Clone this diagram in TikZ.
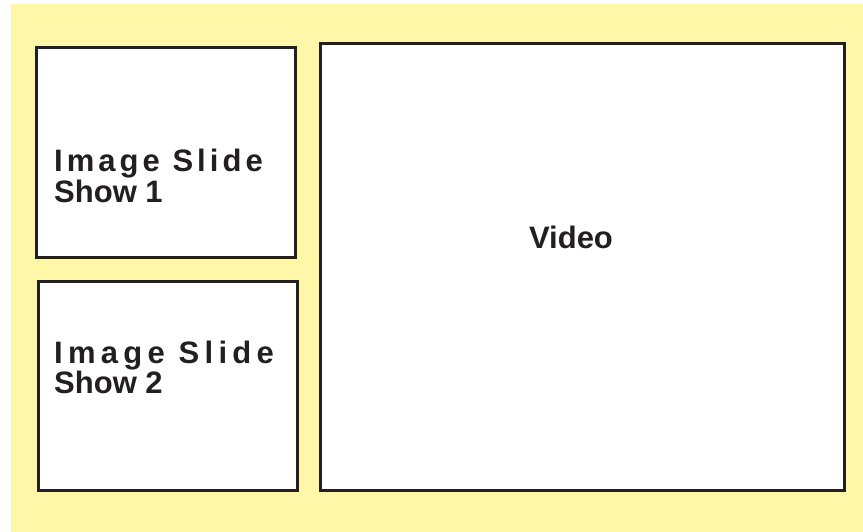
\documentclass[tikz,border=0pt]{standalone}
\usepackage{fontspec}
\setmainfont{Liberation Sans}
\newfontfamily\spacedfont[LetterSpace=13]{Liberation Sans}
\newfontfamily\widefont[LetterSpace=17]{Liberation Sans}
\begin{document}
\begin{tikzpicture}[x=1pt,y=-1pt]

\definecolor{BLACK}{RGB}{35,31,32}
\definecolor{WHITE}{RGB}{255,255,255}
\definecolor{PAPER}{RGB}{255,247,168}
\useasboundingbox (0,0) rectangle (863,532);
\fill[WHITE] (0,0) rectangle (863,532);
\fill[PAPER] (11,4) rectangle (863,532);
\draw[BLACK, solid, line join=miter, line width=3, fill=WHITE]
	(36,48) rectangle (295,257);
\draw[BLACK, solid, line join=miter, line width=3, fill=WHITE]
	(38,281) rectangle (297,490);
\draw[BLACK, solid, line join=miter, line width=3, fill=WHITE]
	(320,44) rectangle (844,490);
\draw[BLACK]
	(54,172) node[anchor=base west, inner sep=0, font=\fontsize{31}{33}\bfseries\spacedfont, BLACK] (show1a)
	{Image Slide};
\draw[BLACK]
	(54,203) node[anchor=base west, inner sep=0, font=\fontsize{31}{33}\bfseries, BLACK] (show1b)
	{Show 1};
\draw[BLACK]
	(54,363) node[anchor=base west, inner sep=0, font=\fontsize{31}{33}\bfseries\widefont, BLACK] (show2a)
	{Image Slide};
\draw[BLACK]
	(54,393) node[anchor=base west, inner sep=0, font=\fontsize{31}{33}\bfseries, BLACK] (show2b)
	{Show 2};
\draw[BLACK]
	(571,248) node[anchor=base, inner sep=0, font=\fontsize{31}{33}\bfseries, BLACK] (video)
	{Video};
\end{tikzpicture}
\end{document}
